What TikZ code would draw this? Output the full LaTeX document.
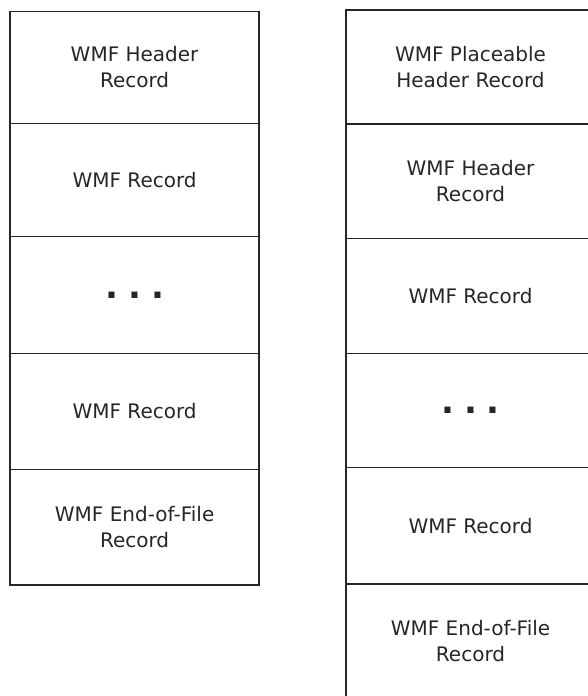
\documentclass[tikz,border=0pt]{standalone}
\usepackage{fontspec}
\setmainfont{DejaVu Sans}
\begin{document}
\begin{tikzpicture}[x=1pt,y=-1pt,
  cell/.style={draw=black!85, line width=1.5pt, rectangle, inner sep=0pt,
    minimum width=249pt, align=center, text=black!85,
    font=\fontsize{20}{26}\selectfont},
  dotscell/.style={cell, font=\fontsize{34}{34}\selectfont\bfseries}]
\useasboundingbox (0,0) rectangle (588,696);
\clip (0,0) rectangle (588,696);
% left column
\node[cell, minimum height=111.6pt] (L1) at (134.6,67.5) {WMF Header\\Record};
\node[cell, minimum height=113.4pt] (L2) at (134.6,180) {WMF Record};
\node[dotscell, minimum height=116.6pt] (L3) at (134.6,295) {.\kern10pt.\kern10pt.};
\node[cell, minimum height=116pt] (L4) at (134.6,411.3) {WMF Record};
\node[cell, minimum height=115.7pt] (L5) at (134.6,527.2) {WMF End-of-File\\Record};
% right column
\node[cell, minimum height=114pt] (R1) at (470.5,67) {WMF Placeable\\Header Record};
\node[cell, minimum height=114.3pt] (R2) at (470.5,181.2) {WMF Header\\Record};
\node[cell, minimum height=115pt] (R3) at (470.5,295.8) {WMF Record};
\node[dotscell, minimum height=114pt] (R4) at (470.5,410.3) {.\kern10pt.\kern10pt.};
\node[cell, minimum height=116.7pt] (R5) at (470.5,525.7) {WMF Record};
\node[cell, minimum height=115pt] (R6) at (470.5,641.5) {WMF End-of-File\\Record};
\end{tikzpicture}
\end{document}
